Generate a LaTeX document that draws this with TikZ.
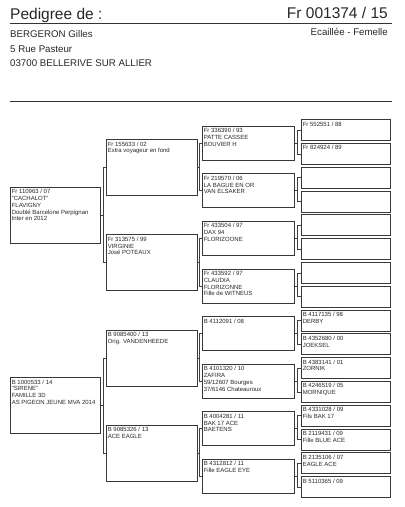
\documentclass[tikz,border=0pt]{standalone}
\usepackage{fontspec}
\setmainfont{Liberation Sans}
\begin{document}
\begin{tikzpicture}[x=1pt,y=-1pt,
  bx/.style={draw=black!78, line width=0.6pt, inner sep=0, anchor=west},
  ga/.style={bx, minimum width=90pt, minimum height=56pt},
  gb/.style={bx, minimum width=91pt, minimum height=56pt},
  gc/.style={bx, minimum width=92pt, minimum height=34pt},
  gd/.style={bx, minimum width=89pt, minimum height=21pt},
  tx/.style={anchor=north west, align=left, inner xsep=1.6pt, inner ysep=2.4pt,
    font=\fontsize{6}{6.8}\selectfont, text=black!85},
  big/.style={inner sep=0, font=\fontsize{15.5}{16}\selectfont, text=black!85},
  mid/.style={inner sep=0, font=\fontsize{9.7}{10}\selectfont, text=black!85},
  rule/.style={draw=black!80},
  conn/.style={draw=black!75, line width=0.55pt}]
\path[use as bounding box] (0,0) rectangle (405,507);

% header
\node[big, anchor=base west] (title) at (10,19.3) {Pedigree de :};
\node[big, anchor=base east] (ring) at (388,18.5) {Fr 001374 / 15};
\coordinate (r1a) at (10,23); \coordinate (r1b) at (392,23);
\draw[rule, line width=0.8pt] (r1a) -- (r1b);
\node[mid, anchor=base east] (sex) at (388,35.5) {Ecaillée - Femelle};
\node[mid, anchor=base west] (own1) at (10,37.7) {BERGERON Gilles};
\node[mid, anchor=base west] (own2) at (10,52) {5 Rue Pasteur};
\node[mid, anchor=base west] (own3) at (10,66) {03700 BELLERIVE SUR ALLIER};
\coordinate (r2a) at (10,101); \coordinate (r2b) at (392,101);
\draw[rule, line width=1pt] (r2a) -- (r2b);

% generation 1
\node[ga] (m0) at (10,215) {};
\node[ga] (m1) at (10,405.4) {};
% generation 2
\foreach \k in {0,...,3} \node[gb] (k\k) at (106,{167.5+95.2*\k}) {};
% generation 3
\foreach \j in {0,...,7} \node[gc] (j\j) at (202,{143+47.6*\j}) {};
% generation 4
\foreach \i in {0,...,15} \node[gd] (i\i) at (301,{130+23.8*\i}) {};

% texts
\node[tx] (m0t) at (m0.north west) {Fr 110963 / 07\\"CACHALOT"\\FLAVIGNY\\Doublé Barcelone Perpignan\\Inter en 2012};
\node[tx] (m1t) at (m1.north west) {B 1000533 / 14\\"SIRENE"\\FAMILLE 3D\\AS PIGEON JEUNE MVA 2014};

\node[tx] (k0t) at (k0.north west) {Fr 155633 / 02\\Extra voyageur en fond};
\node[tx] (k1t) at (k1.north west) {Fr 313575 / 99\\VIRGINIE\\José POTEAUX};
\node[tx] (k2t) at (k2.north west) {B 9085400 / 13\\Orig. VANDENHEEDE};
\node[tx] (k3t) at (k3.north west) {B 9085326 / 13\\ACE EAGLE};

\node[tx] (j0t) at (j0.north west) {Fr 336390 / 93\\PATTE CASSEE\\BOUVIER H};
\node[tx] (j1t) at (j1.north west) {Fr 219570 / 06\\LA BAGUE EN OR\\VAN ELSAKER};
\node[tx] (j2t) at (j2.north west) {Fr 433504 / 97\\DAX 94\\FLORIZOONE};
\node[tx] (j3t) at (j3.north west) {Fr 433592 / 97\\CLAUDIA\\FLORIZONNE\\Fille de WITNEUS};
\node[tx] (j4t) at (j4.north west) {B 4112091 / 08};
\node[tx] (j5t) at (j5.north west) {B 4101320 / 10\\ZAFIRA\\59/12607 Bourges\\37/6146 Chateauroux};
\node[tx] (j6t) at (j6.north west) {B 4004281 / 11\\BAK 17 ACE\\BAETENS};
\node[tx] (j7t) at (j7.north west) {B 4312812 / 11\\Fille EAGLE EYE};

\node[tx] (i0t) at (i0.north west) {Fr 552551 / 88};
\node[tx] (i1t) at (i1.north west) {Fr 824924 / 89};
\node[tx] (i8t) at (i8.north west) {B 4117135 / 98\\DERBY};
\node[tx] (i9t) at (i9.north west) {B 4352680 / 00\\JOEKSEL};
\node[tx] (i10t) at (i10.north west) {B 4383141 / 01\\ZORNIK};
\node[tx] (i11t) at (i11.north west) {B 4246519 / 05\\MORNIQUE};
\node[tx] (i12t) at (i12.north west) {B 4331028 / 09\\Fils BAK 17};
\node[tx] (i13t) at (i13.north west) {B 2119431 / 09\\Fille BLUE ACE};
\node[tx] (i14t) at (i14.north west) {B 2135106 / 07\\EAGLE ACE};
\node[tx] (i15t) at (i15.north west) {B 5110365 / 09};

% connectors
\foreach \p/\a/\b in {m0/k0/k1, m1/k2/k3}{
  \draw[conn] (\p.east) -- ++(3.5,0);
  \draw[conn] (\a.west) -- ++(-2.5,0) |- (\b.west);
}
\foreach \p/\a/\b in {k0/j0/j1, k1/j2/j3, k2/j4/j5, k3/j6/j7}{
  \draw[conn] (\p.east) -- ++(2.5,0);
  \draw[conn] (\a.west) -- ++(-2.5,0) |- (\b.west);
}
\foreach \p/\a/\b in {j0/i0/i1, j1/i2/i3, j2/i4/i5, j3/i6/i7, j4/i8/i9, j5/i10/i11, j6/i12/i13, j7/i14/i15}{
  \draw[conn] (\p.east) -- ++(3.5,0);
  \draw[conn] (\a.west) -- ++(-3.5,0) |- (\b.west);
}
\end{tikzpicture}
\end{document}
